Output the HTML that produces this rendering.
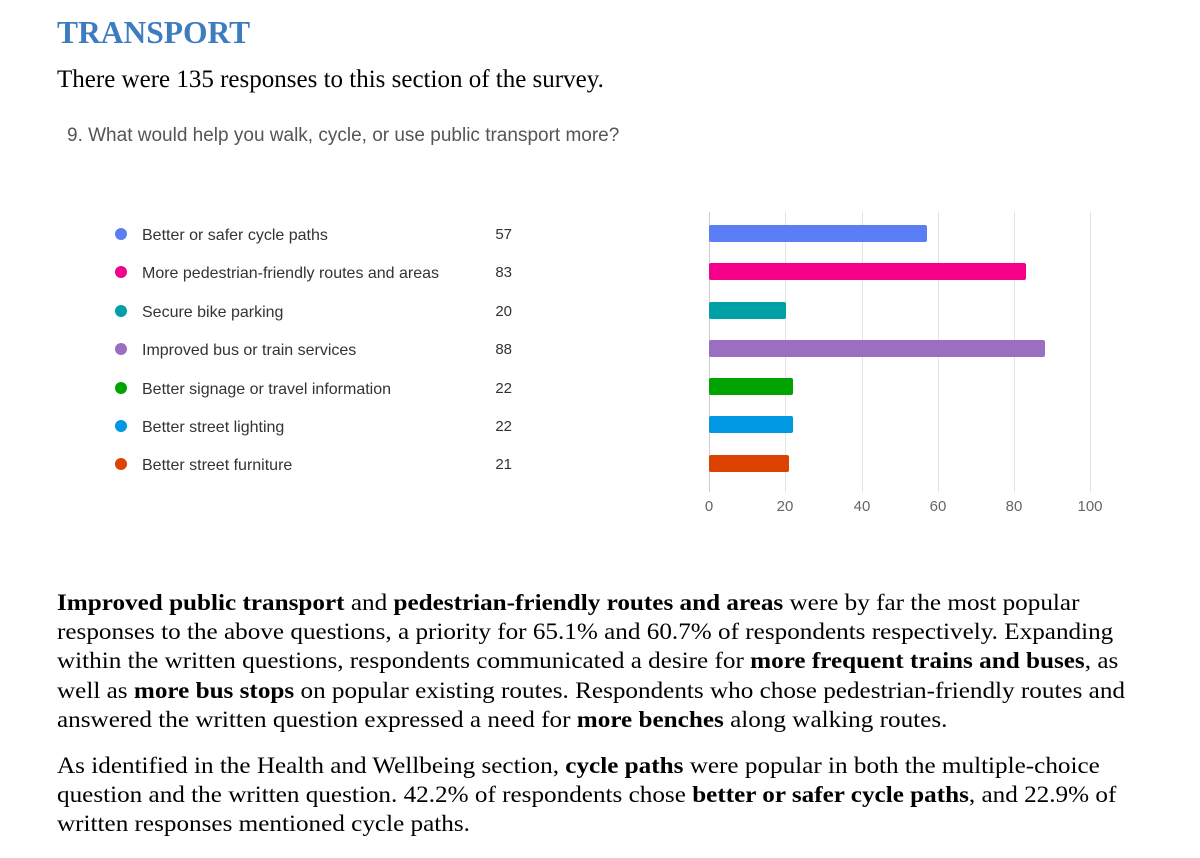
<!DOCTYPE html>
<html><head><meta charset="utf-8"><style>
body{margin:0;width:1200px;height:858px;background:#fff;position:relative;overflow:hidden}
.a{position:absolute;white-space:nowrap}
.serif{font-family:"Liberation Serif",serif;color:#000}
.sans{font-family:"Liberation Sans",sans-serif}
.leg{font-size:16px;color:#333;left:142px}
.dot{position:absolute;left:115px;width:12px;height:12px;border-radius:50%}
.num{font-size:15px;color:#333;width:40px;text-align:right;left:472px}
.bar{position:absolute;left:709px;height:17px;border-radius:2px}
.g{position:absolute;top:212px;width:1px;height:280px;background:#e3e3e3}
.t{font-size:15px;color:#666;top:498px;width:40px;text-align:center}
p{margin:0}
</style></head><body>
<div class="a serif" style="left:57px;top:15px;font-size:31.5px;font-weight:bold;color:#3d7dbf">TRANSPORT</div>
<div class="a serif" style="left:57px;top:66px;font-size:25px">There were 135 responses to this section of the survey.</div>
<div class="a sans" style="left:67px;top:125px;font-size:19px;color:#555">9. What would help you walk, cycle, or use public transport more?</div>

<div class="dot" style="top:228px;background:#5b7ef5"></div><div class="a sans leg" style="top:227px">Better or safer cycle paths</div><div class="a sans num" style="top:226px">57</div>
<div class="dot" style="top:266px;background:#f5008b"></div><div class="a sans leg" style="top:265px">More pedestrian-friendly routes and areas</div><div class="a sans num" style="top:264px">83</div>
<div class="dot" style="top:305px;background:#00a1a6"></div><div class="a sans leg" style="top:304px">Secure bike parking</div><div class="a sans num" style="top:303px">20</div>
<div class="dot" style="top:343px;background:#9a6fc2"></div><div class="a sans leg" style="top:342px">Improved bus or train services</div><div class="a sans num" style="top:341px">88</div>
<div class="dot" style="top:382px;background:#00a300"></div><div class="a sans leg" style="top:381px">Better signage or travel information</div><div class="a sans num" style="top:380px">22</div>
<div class="dot" style="top:420px;background:#0097e3"></div><div class="a sans leg" style="top:419px">Better street lighting</div><div class="a sans num" style="top:418px">22</div>
<div class="dot" style="top:458px;background:#dc4300"></div><div class="a sans leg" style="top:457px">Better street furniture</div><div class="a sans num" style="top:456px">21</div>

<div class="g" style="left:709px;background:#ccc"></div>
<div class="g" style="left:785px"></div>
<div class="g" style="left:862px"></div>
<div class="g" style="left:938px"></div>
<div class="g" style="left:1014px"></div>
<div class="g" style="left:1090px"></div>

<div class="bar" style="top:225px;width:218px;background:#5b7ef5"></div>
<div class="bar" style="top:263px;width:317px;background:#f5008b"></div>
<div class="bar" style="top:302px;width:77px;background:#00a1a6"></div>
<div class="bar" style="top:340px;width:336px;background:#9a6fc2"></div>
<div class="bar" style="top:378px;width:84px;background:#00a300"></div>
<div class="bar" style="top:416px;width:84px;background:#0097e3"></div>
<div class="bar" style="top:455px;width:80px;background:#dc4300"></div>

<div class="a sans t" style="left:689px">0</div>
<div class="a sans t" style="left:765px">20</div>
<div class="a sans t" style="left:842px">40</div>
<div class="a sans t" style="left:918px">60</div>
<div class="a sans t" style="left:994px">80</div>
<div class="a sans t" style="left:1070px">100</div>

<div class="a serif" style="left:57px;top:589px;font-size:23.3px;line-height:29.2px;transform:scaleX(1.08);transform-origin:0 0">
<p><b>Improved public transport</b> and <b>pedestrian-friendly routes and areas</b> were by far the most popular<br>responses to the above questions, a priority for 65.1% and 60.7% of respondents respectively. Expanding<br>within the written questions, respondents communicated a desire for <b>more frequent trains and buses</b>, as<br>well as <b>more bus stops</b> on popular existing routes. Respondents who chose pedestrian-friendly routes and<br>answered the written question expressed a need for <b>more benches</b> along walking routes.</p>
<p style="margin-top:17px">As identified in the Health and Wellbeing section, <b>cycle paths</b> were popular in both the multiple-choice<br>question and the written question. 42.2% of respondents chose <b>better or safer cycle paths</b>, and 22.9% of<br>written responses mentioned cycle paths.</p>
</div>
</body></html>
